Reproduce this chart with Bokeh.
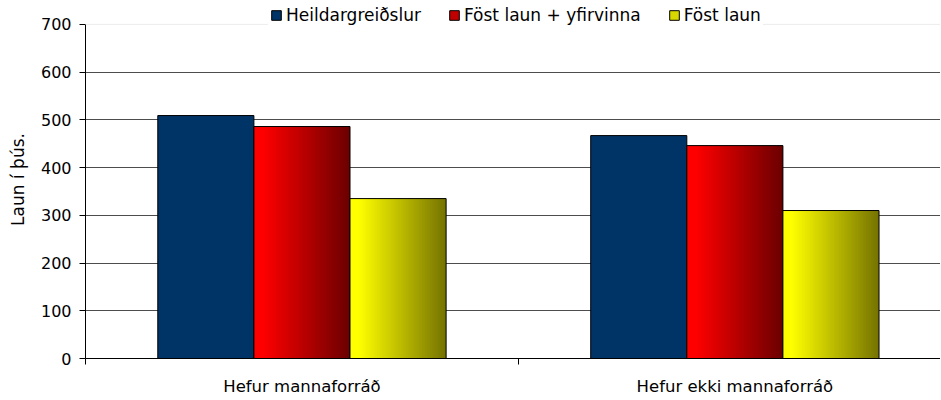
from bokeh.plotting import figure
from bokeh.models import (ColumnDataSource, Range1d, FixedTicker, Span, Legend, LegendItem)
from bokeh.embed import file_html
from bokeh.resources import INLINE

categories = ["Hefur mannaforráð", "Hefur ekki mannaforráð"]
series_names = ["Heildargreiðslur", "Föst laun + yfirvinna", "Föst laun"]
heildar = [509, 467]
fost_yfir = [486, 446]
fost = [335, 310]
y_ticks = [0, 100, 200, 300, 400, 500, 600, 700]

FONT = "DejaVu Sans"
BAR_W = 0.222
OFFSETS = [-BAR_W, 0.0, BAR_W]
Y_AXIS_MAX = 700
Y_VIEW_MAX = 750      # headroom above the axis for the legend
X_VIEW_MAX = 1.975    # reference crops the right end of the plot

p = figure(width=940, height=398, output_backend="svg", toolbar_location=None,
           x_range=Range1d(0, X_VIEW_MAX), y_range=Range1d(0, Y_VIEW_MAX),
           min_border_left=85, min_border_top=0, min_border_bottom=40, min_border_right=0)
p.outline_line_color = None
p.background_fill_color = "white"
p.border_fill_color = "white"

# grid
p.xgrid.visible = False
p.ygrid.ticker = FixedTicker(ticks=y_ticks[1:-1])
p.ygrid.grid_line_color = "#4d4d4d"
p.ygrid.grid_line_width = 1
p.add_layout(Span(location=y_ticks[-1], dimension="width", line_color="#ececec", line_width=1))


def hex_to_rgb(h):
    h = h.lstrip("#")
    return tuple(int(h[i:i + 2], 16) for i in (0, 2, 4))


def lerp_color(c0, c1, t):
    a, b = hex_to_rgb(c0), hex_to_rgb(c1)
    return "#%02x%02x%02x" % tuple(int(round(a[i] + (b[i] - a[i]) * t)) for i in range(3))


centers = [i + 0.5 for i in range(len(categories))]

# solid blue bars
left0 = [c + OFFSETS[0] - BAR_W / 2 for c in centers]
right0 = [c + OFFSETS[0] + BAR_W / 2 for c in centers]
blue = p.quad(left=left0, right=right0, bottom=0, top=heildar,
              fill_color="#003366", line_color="black", line_width=1)

# gradient bars
N = 60
grad_specs = [(fost_yfir, 1, "#ff0000", "#6c0000"), (fost, 2, "#ffff00", "#767400")]
for values, k, c0, c1 in grad_specs:
    L, R, T, C = [], [], [], []
    for ci, v in zip(centers, values):
        bl = ci + OFFSETS[k] - BAR_W / 2
        step = BAR_W / N
        for j in range(N):
            t = j / (N - 1)
            tt = max(0.0, (t - 0.08) / 0.92)
            L.append(bl + j * step)
            R.append(min(bl + (j + 1.6) * step, bl + BAR_W))
            T.append(v)
            C.append(lerp_color(c0, c1, tt))
    p.quad(left=L, right=R, bottom=0, top=T, fill_color=C, line_color=None)
    p.quad(left=[ci + OFFSETS[k] - BAR_W / 2 for ci in centers],
           right=[ci + OFFSETS[k] + BAR_W / 2 for ci in centers],
           bottom=0, top=values, fill_color=None, line_color="black", line_width=1)

# legend dummy renderers (one NaN row so the legend swatch is drawn, nothing on the plot)
nan = float("nan")
def dummy_src():
    return ColumnDataSource(dict(left=[nan], right=[nan], bottom=[nan], top=[nan]))
red_dummy = p.quad(source=dummy_src(), left="left", right="right", bottom="bottom", top="top",
                   fill_color="#c00000", line_color="black")
yel_dummy = p.quad(source=dummy_src(), left="left", right="right", bottom="bottom", top="top",
                   fill_color="#d8d800", line_color="black")

legend = Legend(items=[LegendItem(label=series_names[0], renderers=[blue]),
                       LegendItem(label=series_names[1], renderers=[red_dummy]),
                       LegendItem(label=series_names[2], renderers=[yel_dummy])],
                orientation="horizontal", location=(183, 331))
legend.glyph_width = 12
legend.glyph_height = 12
legend.label_standoff = 4
legend.spacing = 27
legend.padding = 2
legend.margin = 0
legend.border_line_alpha = 0
legend.background_fill_color = "white"
legend.background_fill_alpha = 1
legend.label_text_font = FONT
legend.label_text_font_size = "17px"
legend.label_text_color = "black"
legend.label_height = 18
p.add_layout(legend, "center")

# y axis
ya = p.yaxis[0]
ya.ticker = FixedTicker(ticks=y_ticks)
ya.bounds = (0, Y_AXIS_MAX)
ya.axis_label = "Laun í þús."
ya.axis_label_text_font = FONT
ya.axis_label_text_font_size = "17px"
ya.axis_label_text_font_style = "normal"
ya.axis_label_standoff = 10
ya.axis_label_text_color = "black"
ya.major_label_text_font = FONT
ya.major_label_text_font_size = "16px"
ya.major_label_text_color = "black"
ya.major_tick_out = 6
ya.major_tick_in = 0
ya.minor_tick_out = 0
ya.minor_tick_in = 0
ya.major_label_standoff = 8
ya.axis_line_color = "black"
ya.major_tick_line_color = "black"

# x axis
xa = p.xaxis[0]
xa.ticker = FixedTicker(ticks=centers, minor_ticks=list(range(len(categories) + 1)))
xa.major_label_overrides = {c: name for c, name in zip(centers, categories)}
xa.major_label_text_font = FONT
xa.major_label_text_font_size = "16.5px"
xa.major_label_text_color = "black"
xa.major_tick_out = 0
xa.major_tick_in = 0
xa.minor_tick_out = 6
xa.minor_tick_in = 0
xa.minor_tick_line_color = "black"
xa.major_label_standoff = 12
xa.axis_line_color = "black"

open("out.html", "w").write(file_html(p, INLINE))
